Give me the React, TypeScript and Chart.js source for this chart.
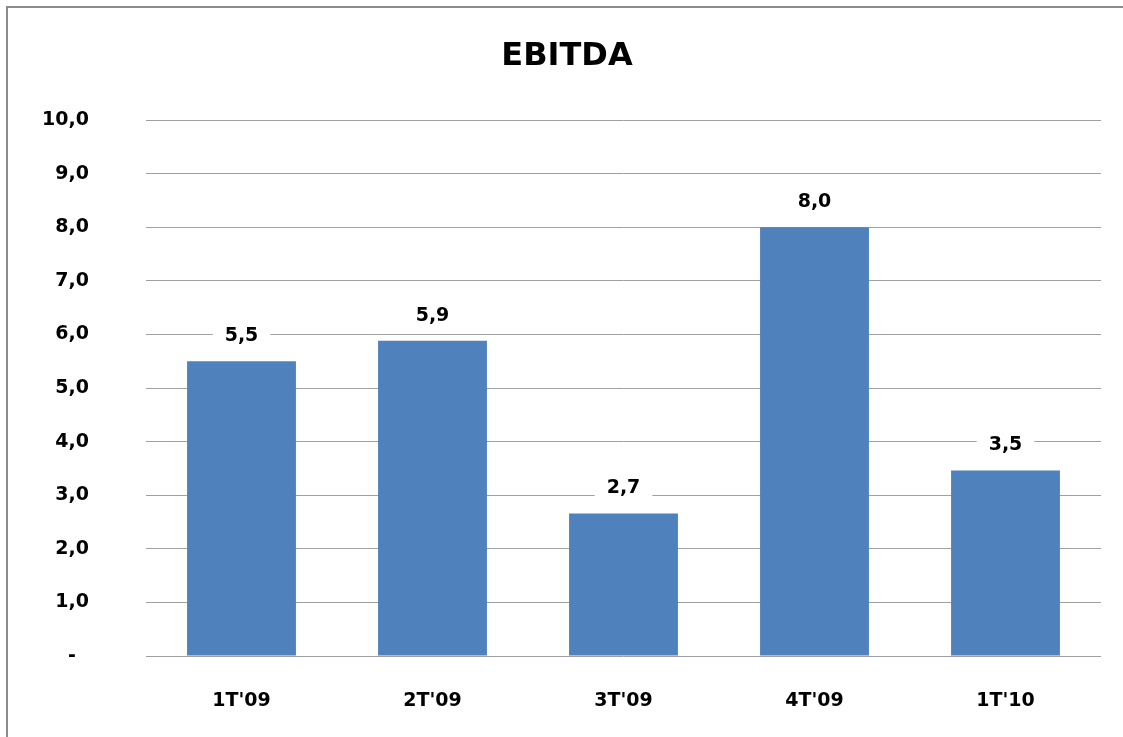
import React, { useEffect, useRef } from "react";
import { Chart, registerables } from "chart.js";

Chart.register(...registerables);

const categories = ["1T'09", "2T'09", "3T'09", "4T'09", "1T'10"];
const ebitdaValues = [5.5, 5.88, 2.66, 8.0, 3.46];
const chartTitle = "EBITDA";
const yMin = 0;
const yMax = 10;
const yStep = 1;

const FONT = "'DejaVu Sans', sans-serif";
const fmt = (v: number) => v.toFixed(1).replace(".", ",");

const framePlugin = {
  id: "frame",
  beforeDraw(chart: any) {
    const ctx = chart.ctx;
    ctx.save();
    ctx.fillStyle = "#ffffff";
    ctx.fillRect(0, 0, chart.width, chart.height);
    ctx.strokeStyle = "#8c8c8c";
    ctx.lineWidth = 2;
    ctx.beginPath();
    ctx.moveTo(7, chart.height + 5);
    ctx.lineTo(7, 7);
    ctx.lineTo(chart.width + 5, 7);
    ctx.stroke();
    ctx.restore();
  },
  afterDraw(chart: any) {
    const ctx = chart.ctx;
    ctx.save();
    ctx.fillStyle = "#000000";
    ctx.font = `bold 32px ${FONT}`;
    ctx.textAlign = "center";
    ctx.textBaseline = "middle";
    ctx.fillText(chartTitle, 567, 57);
    ctx.restore();
  },
};

const labelPlugin = {
  id: "valueLabels",
  afterDatasetsDraw(chart: any) {
    const ctx = chart.ctx;
    const meta = chart.getDatasetMeta(0);
    const data = chart.data.datasets[0].data as number[];
    ctx.save();
    ctx.font = `bold 19px ${FONT}`;
    ctx.textAlign = "center";
    ctx.textBaseline = "middle";
    meta.data.forEach((bar: any, i: number) => {
      const text = fmt(data[i]);
      const y = bar.y - 26;
      const w = ctx.measureText(text).width + 24;
      ctx.fillStyle = "#ffffff";
      ctx.fillRect(bar.x - w / 2, y - 13, w, 26);
      ctx.fillStyle = "#000000";
      ctx.fillText(text, bar.x, y + 1);
    });
    ctx.restore();
  },
};

export default function App() {
  const ref = useRef<HTMLCanvasElement>(null);

  useEffect(() => {
    if (!ref.current) return;
    const chart = new Chart(ref.current, {
      type: "bar",
      data: {
        labels: categories,
        datasets: [
          {
            label: chartTitle,
            data: ebitdaValues,
            backgroundColor: "#4F81BD",
            borderWidth: 0,
            barPercentage: 0.57,
            categoryPercentage: 1,
          },
        ],
      },
      options: {
        responsive: false,
        animation: false,
        layout: { padding: { left: 0, top: 120, right: 22, bottom: 0 } },
        plugins: {
          legend: { display: false },
          title: { display: false },
          tooltip: { enabled: false },
        },
        scales: {
          x: {
            grid: { display: false, drawTicks: false },
            border: { display: false },
            ticks: {
              color: "#000000",
              font: { family: FONT, size: 19, weight: "bold" },
              padding: 34,
              maxRotation: 0,
            },
            afterFit: (scale: any) => {
              scale.height = 81;
            },
          },
          y: {
            min: yMin,
            max: yMax,
            grid: { color: "#a0a0a0", lineWidth: 1, drawTicks: false },
            border: { display: false },
            ticks: {
              stepSize: yStep,
              color: "#000000",
              font: { family: FONT, size: 19, weight: "bold" },
              padding: 57,
              callback: (v: any) => (Number(v) === 0 ? "-\u2007" : fmt(Number(v))),
            },
            afterFit: (scale: any) => {
              scale.width = 146;
            },
          },
        },
      },
      plugins: [framePlugin, labelPlugin],
    });
    return () => chart.destroy();
  }, []);

  return (
    <div style={{ position: "fixed", left: 0, top: 0, width: 1123, height: 737, background: "#fff" }}>
      <canvas ref={ref} width={1123} height={737} style={{ display: "block" }} />
    </div>
  );
}
